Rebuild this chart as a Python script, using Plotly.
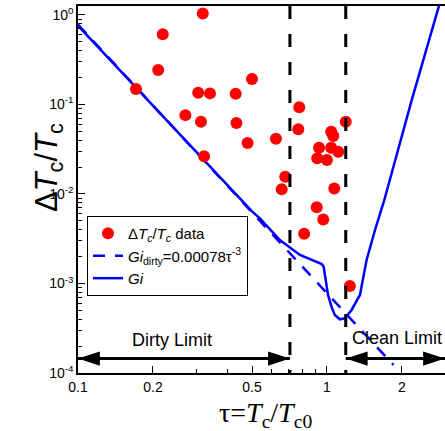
import math
import plotly.graph_objects as go

# ---------------- data ----------------
data_tau = [0.171, 0.317, 0.219, 0.21, 0.50, 0.304, 0.339, 0.43, 0.27, 0.312,
            0.433, 0.48, 0.624, 0.321, 0.68, 0.658, 0.774, 0.767, 1.19, 1.04,
            1.06, 0.93, 1.04, 1.11, 0.914, 1.0, 1.07, 0.91, 0.966, 0.81, 1.236]
data_dT = [0.149, 1.04, 0.61, 0.243, 0.193, 0.135, 0.133, 0.132, 0.076, 0.064,
           0.062, 0.037, 0.0415, 0.0264, 0.0156, 0.0113, 0.093, 0.053, 0.064, 0.0497,
           0.0445, 0.0329, 0.0329, 0.0297, 0.025, 0.024, 0.0115, 0.0071, 0.0052, 0.0036, 0.00094]

gi_dirty_tau = [0.1, 0.2, 0.5, 1.0, 1.5, 1.85]
gi_dirty_val = [0.78, 0.0975, 0.00624, 0.00078, 0.000231, 0.000123]

gi_tau = [0.1, 0.2, 0.3, 0.4, 0.5, 0.538, 0.647, 0.779, 0.953, 0.97, 1.01, 1.045, 1.076,
          1.127, 1.18, 1.256, 1.357, 1.443, 1.56, 1.70, 2.19, 2.82]
gi_val = [0.76, 0.0975, 0.029, 0.0123, 0.0064, 0.00535, 0.00306, 0.00208, 0.00165,
          0.00154, 0.000745, 0.00054, 0.000445, 0.000398, 0.000408, 0.000506, 0.000744,
          0.00183, 0.00396, 0.00857, 0.112, 1.27]

dirty_limit_tau = 0.71
clean_limit_tau = 1.19
arrow_level = 1.45e-4
x_min, x_max = 0.1, 2.98
y_min, y_max = 1e-4, 10 ** 0.1

x_ticks = [0.1, 0.2, 0.5, 1, 2]
x_tick_text = ["0.1", "0.2", "0.5", "1", "2"]
x_minor = [0.3, 0.4, 0.6, 0.7, 0.8, 0.9]
y_ticks = [1e-4, 1e-3, 1e-2, 1e-1, 1]
y_tick_text = ["10<sup>-4</sup>", "10<sup>-3</sup>", "10<sup>-2</sup>", "10<sup>-1</sup>", "10<sup>0</sup>"]
y_minor = [k * 10 ** e for e in range(-4, 0) for k in range(2, 10)]

BLUE = "#0000FF"
RED = "#FF0000"

fig = go.Figure()

fig.add_trace(go.Scatter(
    x=gi_dirty_tau, y=gi_dirty_val, mode="lines",
    line=dict(color=BLUE, width=2.5, dash="12px,10px"),
    name="<i>Gi</i><sub>dirty</sub>=0.00078τ<sup>-3</sup>", legendrank=2, legendgroup="b"))
fig.add_trace(go.Scatter(
    x=gi_tau, y=gi_val, mode="lines",
    line=dict(color=BLUE, width=2.5),
    name="<i>Gi</i>", legendrank=3, legendgroup="c"))
fig.add_trace(go.Scatter(
    x=data_tau, y=data_dT, mode="markers",
    marker=dict(color=RED, size=12, line=dict(width=0)),
    name="Δ<i>T</i><sub><i>c</i></sub>/<i>T</i><sub><i>c</i></sub> data", legendrank=1,
    legendgroup="a"))

# vertical limit lines
for xv in (dirty_limit_tau, clean_limit_tau):
    fig.add_trace(go.Scatter(
        x=[xv, xv], y=[y_max, y_min], mode="lines",
        line=dict(color="black", width=3, dash="13px,15px"),
        showlegend=False, hoverinfo="skip"))

# double-headed arrows
for x0, x1 in ((x_min, dirty_limit_tau), (clean_limit_tau, x_max)):
    fig.add_trace(go.Scatter(
        x=[x0, x1], y=[arrow_level, arrow_level], mode="lines+markers",
        line=dict(color="black", width=3),
        marker=dict(symbol="arrow", size=23, color="black", angle=[-90, 90],
                    line=dict(width=0)),
        cliponaxis=False, showlegend=False, hoverinfo="skip"))

fig.add_annotation(x=math.log10(0.238), y=-3.631, text="Dirty Limit",
                   showarrow=False, font=dict(size=18, color="black", family="Liberation Sans"))
fig.add_annotation(x=math.log10(1.91), y=-3.609, text="Clean Limit",
                   showarrow=False, font=dict(size=18, color="black", family="Liberation Sans"))

# axis titles
fig.add_annotation(xref="paper", yref="paper", x=-0.139, y=0.561, textangle=-90,
                   text="Δ<i>T</i><sub>c</sub>/<i>T</i><sub>c</sub>", showarrow=False,
                   font=dict(size=31, color="black", family="Liberation Sans"))
fig.add_annotation(xref="paper", yref="paper", x=0.51, y=-0.06, yanchor="top",
                   text="τ=<i>T</i><sub>c</sub>/<i>T</i><sub>c0</sub>", showarrow=False,
                   font=dict(size=28, color="black", family="Liberation Serif"))

fig.update_layout(
    width=445, height=431,
    margin=dict(l=78, r=0, t=6, b=58),
    paper_bgcolor="white", plot_bgcolor="white",
    font=dict(family="Liberation Sans", size=14, color="black"),
    showlegend=True,
    legend=dict(x=0.0245, y=0.428, xanchor="left", yanchor="top",
                bordercolor="black", borderwidth=1, bgcolor="white",
                font=dict(size=15, color="black"), tracegroupgap=3,
                traceorder="normal"),
    xaxis=dict(type="log", range=[math.log10(x_min), math.log10(x_max)],
               showgrid=False, zeroline=False, showline=True, linecolor="black",
               linewidth=1.5, mirror=True, ticks="inside", ticklen=7, tickcolor="black",
               tickvals=x_ticks, ticktext=x_tick_text,
               minor=dict(ticks="inside", ticklen=4, tickvals=x_minor, tickcolor="black"),
               tickfont=dict(size=14)),
    yaxis=dict(type="log", range=[math.log10(y_min), math.log10(y_max)],
               showgrid=False, zeroline=False, showline=True, linecolor="black",
               linewidth=1.5, ticks="inside", ticklen=7, tickcolor="black",
               tickvals=y_ticks, ticktext=y_tick_text,
               minor=dict(ticks="inside", ticklen=4, tickvals=y_minor, tickcolor="black"),
               tickfont=dict(size=14)),
)

fig.write_html("out.html")
